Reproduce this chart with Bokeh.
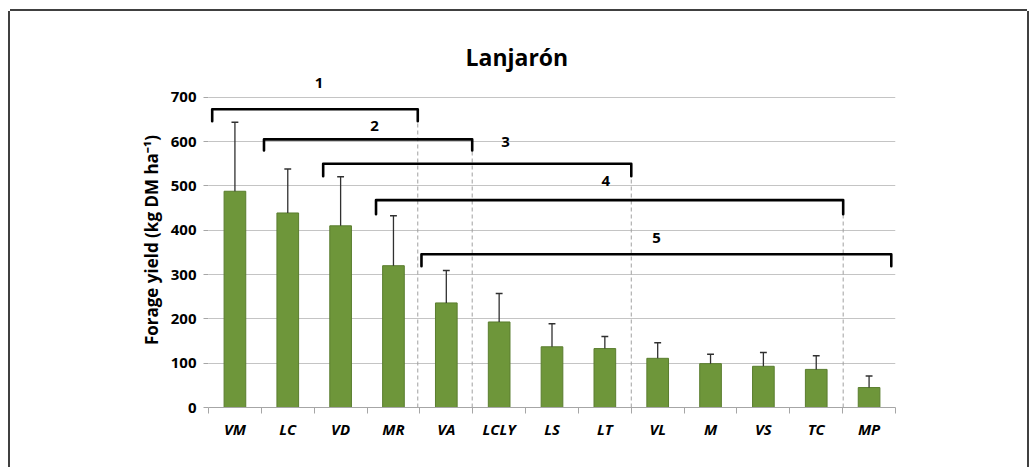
from bokeh.plotting import figure
from bokeh.models import Range1d, FixedTicker
from bokeh.core.properties import value
from bokeh.embed import file_html
from bokeh.resources import INLINE

# ---------------- data ----------------
sites = ["VM", "LC", "VD", "MR", "VA", "LCLY", "LS", "LT", "VL", "M", "VS", "TC", "MP"]
yield_mean = [488, 439, 410, 320, 236, 193, 137, 133, 111, 99, 93, 86, 45]
yield_sd = [156, 99, 111, 113, 73, 64, 52, 27, 35, 21, 31, 31, 26]
y_ticks = [0, 100, 200, 300, 400, 500, 600, 700]

group_labels = ["1", "2", "3", "4", "5"]
group_first = ["VM", "LC", "VD", "MR", "VA"]
group_last = ["MR", "VA", "LT", "TC", "MP"]

title_text = "Lanjarón"
y_title = "Forage yield (kg DM ha⁻¹)"

# ---------------- layout / style ----------------
FONT = "Open Sans"
BAR_FILL = "#6E963A"
BAR_LINE = "#5A7D2E"
GRID = "#C4C4C4"
FRAME = "#404040"

bracket_level = [673, 605, 550, 468, 346]
bracket_drop = [27, 25, 28, 32, 27]
bracket_inset = [0.07, 0.05, 0.17, 0.17, 0.03]
bracket_end_trim = [0.04, 0.01, 0.0, -0.01, 0.08]
label_x = [2.09, 3.14, 5.62, 7.52, 8.48]
label_y = [732, 635, 599, 511, 383]

n = len(sites)
xc = [i + 0.5 for i in range(n)]

p = figure(width=1017, height=456, output_backend="svg", toolbar_location=None,
           x_range=Range1d(0, n), y_range=Range1d(0, 756),
           min_border_left=198, min_border_right=132,
           min_border_top=61, min_border_bottom=60)
p.outline_line_color = None
p.background_fill_color = "white"
p.border_fill_color = "white"
# outer chart-area frame (top, left, right) drawn as box shadows
p.styles = {
    "margin-left": "10px",
    "margin-top": "11px",
    "box-shadow": f"0 -2px 0 0 {FRAME}, -2px 0 0 0 {FRAME}, 2px 0 0 0 {FRAME}",
}

# title
p.title.text = title_text
p.title.align = "left"
p.title.offset = 257
p.title.standoff = 0
p.title.text_font = FONT
p.title.text_font_style = "bold"
p.title.text_font_size = "23px"
p.title.text_color = "black"

# axes
p.xaxis.ticker = FixedTicker(ticks=xc, minor_ticks=list(range(n + 1)))
p.xaxis.major_label_overrides = {x: s for x, s in zip(xc, sites)}
p.xaxis.major_tick_line_color = None
p.xaxis.major_tick_out = 0
p.xaxis.major_tick_in = 0
p.xaxis.minor_tick_line_color = "#A6A6A6"
p.xaxis.minor_tick_out = 6
p.xaxis.minor_tick_in = 0
p.xaxis.axis_line_color = "#A6A6A6"
p.xaxis.major_label_standoff = 5
p.xaxis.major_label_text_font = FONT
p.xaxis.major_label_text_font_style = "bold italic"
p.xaxis.major_label_text_font_size = "15px"
p.xaxis.major_label_text_color = "black"

p.yaxis.ticker = FixedTicker(ticks=y_ticks)
p.yaxis.bounds = (0, 700)
p.yaxis.axis_line_color = None
p.yaxis.major_tick_line_color = "#A6A6A6"
p.yaxis.major_tick_out = 5
p.yaxis.major_tick_in = 0
p.yaxis.minor_tick_line_color = None
p.yaxis.major_label_standoff = 7
p.yaxis.major_label_text_font = FONT
p.yaxis.major_label_text_font_style = "bold"
p.yaxis.major_label_text_font_size = "15px"
p.yaxis.major_label_text_color = "black"
p.yaxis.axis_label = y_title
p.yaxis.axis_label_standoff = 5
p.yaxis.axis_label_text_font = FONT
p.yaxis.axis_label_text_font_style = "bold"
p.yaxis.axis_label_text_font_size = "17px"
p.yaxis.axis_label_text_color = "black"

p.xgrid.grid_line_color = None
p.ygrid.ticker = FixedTicker(ticks=y_ticks)
p.ygrid.grid_line_color = GRID
p.ygrid.grid_line_width = 1

# dashed separators (from bracket right tip down to the axis)
idx = {s: i for i, s in enumerate(sites)}
br_x0 = [idx[a] + ins for a, ins in zip(group_first, bracket_inset)]
br_x1 = [idx[b] + 1 - t for b, t in zip(group_last, bracket_end_trim)]
br_tip = [lv - d for lv, d in zip(bracket_level, bracket_drop)]
dash_x = [x for x in br_x1 if x < n - 0.5]
dash_top = [t for x, t in zip(br_x1, br_tip) if x < n - 0.5]
p.segment(x0=dash_x, y0=[0] * len(dash_x), x1=dash_x, y1=dash_top,
          line_color="#A0A0A0", line_dash="4 3", line_width=1)

# bars
p.vbar(x=xc, top=yield_mean, width=0.41, bottom=0,
       fill_color=BAR_FILL, line_color=BAR_LINE, line_width=1)

# error bars (upper only)
upper = [m + s for m, s in zip(yield_mean, yield_sd)]
p.segment(x0=xc, y0=yield_mean, x1=xc, y1=upper, line_color="#303030", line_width=1.3)
cap = 0.065
p.segment(x0=[x - cap for x in xc], y0=upper, x1=[x + cap for x in xc], y1=upper,
          line_color="#303030", line_width=1.5)

# brackets
xs = [[a, a, b, b] for a, b in zip(br_x0, br_x1)]
ys = [[t, lv, lv, t] for t, lv in zip(br_tip, bracket_level)]
p.multi_line(xs=xs, ys=ys, line_color="black", line_width=2.6, line_join="round", line_cap="round")
p.text(x=label_x, y=label_y, text=group_labels, text_font=value(FONT), text_font_style="bold",
       text_font_size="15px", text_align="center", text_baseline="middle", text_color="black")

open("out.html", "w").write(file_html(p, INLINE))
